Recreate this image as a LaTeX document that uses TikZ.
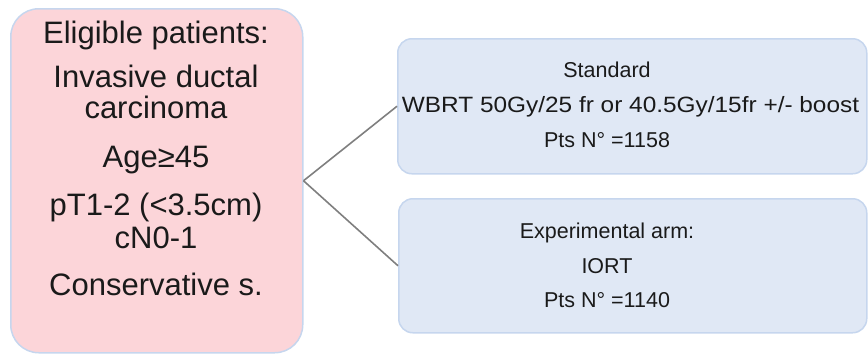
\documentclass[tikz,border=0pt]{standalone}
\usepackage{fontspec}
\setmainfont{Liberation Sans}
\definecolor{pinkfill}{HTML}{FCD5D9}
\definecolor{bluefill}{HTML}{E0E8F5}
\definecolor{boxline}{HTML}{C6D6EE}
\definecolor{linkgray}{HTML}{7F7F7F}
\definecolor{ink}{HTML}{1A1A1A}
\begin{document}
\begin{tikzpicture}[x=1pt,y=-1pt,
  leftbox/.style={draw=boxline, line width=1.5pt, fill=pinkfill, rounded corners=28pt, anchor=north west, inner sep=0pt},
  armbox/.style={draw=boxline, line width=1.5pt, fill=bluefill, rounded corners=14pt, anchor=north west, inner sep=0pt},
  bigtxt/.style={anchor=base, inner sep=0pt, text=ink, font=\fontsize{31}{33}\selectfont},
  smalltxt/.style={anchor=base, inner sep=0pt, text=ink, font=\fontsize{21.5}{24}\selectfont},
  link/.style={draw=linkgray, line width=1.6pt}]
\useasboundingbox (0,0) rectangle (868,354);
\node[leftbox, minimum width=292pt, minimum height=344pt] (L) at (10,8) {};
\node[armbox, minimum width=469pt, minimum height=135pt] (A) at (397,38) {};
\node[armbox, minimum width=468pt, minimum height=134pt] (B) at (398,198) {};
% left text
\node[bigtxt] (l1) at (156,43) {Eligible patients:};
\node[bigtxt] (l2) at (156,87) {Invasive ductal};
\node[bigtxt] (l3) at (156,118) {carcinoma};
\node[bigtxt] (l4) at (156,167) {Age≥45};
\node[bigtxt] (l5) at (156,215) {pT1-2 (<3.5cm)};
\node[bigtxt] (l6) at (156,248) {cN0-1};
\node[bigtxt] (l7) at (156,295) {Conservative s.};
% top arm text
\node[smalltxt] (a1) at (607,77) {Standard};
\node[smalltxt] (a2) at (630.5,112) {\scalebox{1.135}[1.03]{WBRT 50Gy/25 fr or 40.5Gy/15fr +/- boost}};
\node[smalltxt] (a3) at (607,147) {Pts N° =1158};
% bottom arm text
\node[smalltxt] (b1) at (607,238) {Experimental arm:};
\node[smalltxt] (b2) at (607,273) {IORT};
\node[smalltxt] (b3) at (607,307) {Pts N° =1140};
% connectors
\draw[link] (L.east) -- (A.west);
\draw[link] (L.east) -- (B.west);
\end{tikzpicture}
\end{document}
